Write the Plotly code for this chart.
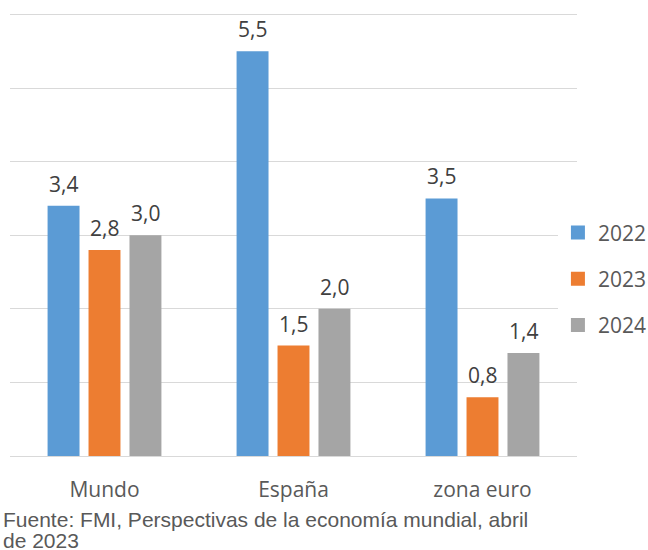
import plotly.graph_objects as go

categories = ["Mundo", "España", "zona euro"]
series_names = ["2022", "2023", "2024"]
values_2022 = [3.4, 5.5, 3.5]
values_2023 = [2.8, 1.5, 0.8]
values_2024 = [3.0, 2.0, 1.4]
colors = ["#5B9BD5", "#ED7D31", "#A5A5A5"]
source_lines = ["Fuente: FMI, Perspectivas de la economía mundial, abril", "de 2023"]

all_values = [values_2022, values_2023, values_2024]
bargap = 0.35

fig = go.Figure()
for name, vals, col in zip(series_names, all_values, colors):
    fig.add_trace(go.Bar(
        x=categories, y=vals, name=name, marker_color=col,
        marker_line_width=0, showlegend=False, hoverinfo="skip",
    ))
# legend entries with larger square swatches
for name, col in zip(series_names, colors):
    fig.add_trace(go.Scatter(
        x=[None], y=[None], mode="markers", name=name,
        marker=dict(symbol="square", size=14, color=col), legendgroup=name,
    ))

annotations = []
slot = (1 - bargap) / len(all_values)
for j, vals in enumerate(all_values):
    off = (j - (len(all_values) - 1) / 2) * slot
    for i, v in enumerate(vals):
        annotations.append(dict(
            x=i + off, y=v, xref="x", yref="y",
            text=f"{v:.1f}".replace(".", ","), showarrow=False,
            yanchor="bottom", yshift=6,
            font=dict(family="Open Sans", size=21, color="#404040"),
        ))

for k, line in enumerate(source_lines):
    annotations.append(dict(
        x=0, y=0, xref="paper", yref="paper", xanchor="left", yanchor="middle",
        xshift=-9, yshift=-63 - 21 * k, align="left", showarrow=False, text=line,
        font=dict(family="Liberation Sans", size=21, color="#595959"),
    ))

fig.update_layout(
    width=648, height=550,
    margin=dict(l=10, r=71, t=13, b=94, autoexpand=False),
    paper_bgcolor="white", plot_bgcolor="white",
    barmode="group", bargap=bargap, bargroupgap=0.22,
    showlegend=True,
    legend=dict(xref="container", x=0.861, xanchor="left",
                y=0.40, yanchor="middle",
                font=dict(family="Open Sans", size=21, color="#595959"),
                tracegroupgap=16, itemclick=False),
    annotations=annotations,
    font=dict(family="Open Sans"),
)
fig.update_xaxes(showline=True, linecolor="#D9D9D9", linewidth=1,
                 ticks="outside", ticklen=15, tickcolor="rgba(0,0,0,0)",
                 tickfont=dict(family="Open Sans", size=21, color="#595959"))
fig.update_yaxes(range=[0, 6.02], tick0=0, dtick=1, showticklabels=False,
                 showgrid=True, gridcolor="#D9D9D9", gridwidth=1,
                 zeroline=False)

fig.write_html("out.html", config={"displayModeBar": False},
               post_script="document.body.style.margin='0';")
